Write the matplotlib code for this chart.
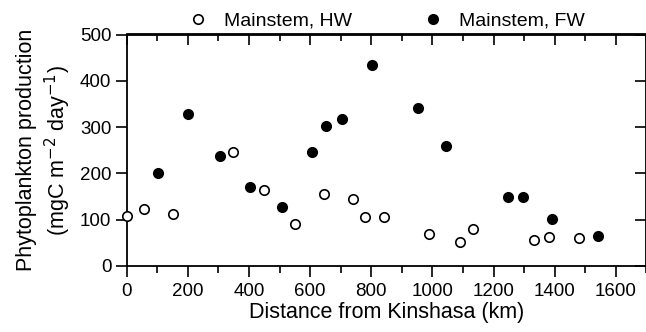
import matplotlib.pyplot as plt
from matplotlib.ticker import MultipleLocator

plt.rcParams['font.family'] = ['Liberation Sans', 'DejaVu Sans']

# Mainstem, high water (open circles)
hw_km = [0, 55, 153, 348, 450, 551, 644, 740, 781, 843, 990, 1090, 1134, 1331, 1380, 1478]
hw_prod = [108, 123, 113, 247, 165, 90, 155, 144, 105, 105, 70, 52, 80, 56, 62, 60]

# Mainstem, falling water (filled circles)
fw_km = [103, 201, 305, 404, 507, 607, 652, 703, 801, 953, 1045, 1248, 1295, 1392, 1541]
fw_prod = [200, 328, 237, 171, 127, 247, 302, 318, 434, 341, 259, 150, 148, 101, 64]

fig = plt.figure(figsize=(6.46, 3.32), dpi=100)
ax = fig.add_axes([126.7 / 646, 66 / 332, 519.7 / 646, 231.5 / 332])

ax.plot(hw_km, hw_prod, 'o', ms=6.8, mfc='white', mec='black', mew=1.2,
        label='Mainstem, HW', clip_on=False, zorder=3)
ax.plot(fw_km, fw_prod, 'o', ms=6.8, mfc='black', mec='black', mew=1.2,
        label='Mainstem, FW', clip_on=False, zorder=3)

ax.set_xlim(0, 1700)
ax.set_ylim(0, 500)
ax.set_xticks(range(0, 1601, 200))
ax.xaxis.set_minor_locator(MultipleLocator(100))
ax.yaxis.set_major_locator(MultipleLocator(100))

ax.tick_params(axis='both', which='major', labelsize=13.5, width=1.2,
               direction='out', length=8, pad=4)
ax.tick_params(axis='x', which='minor', direction='out', length=5, width=1.2)
ax.tick_params(axis='y', which='major', pad=3)

# top and right ticks point inward
ax_top = ax.secondary_xaxis('top')
ax_top.set_xticks(range(0, 1601, 200))
ax_top.xaxis.set_minor_locator(MultipleLocator(100))
ax_top.tick_params(which='major', direction='in', length=8, width=1.2)
ax_top.tick_params(which='minor', direction='in', length=5, width=1.2)
ax_top.set_xticklabels([])
ax_top.spines['top'].set_linewidth(1.3)
ax_right = ax.secondary_yaxis('right')
ax_right.tick_params(direction='in', length=8, width=1.2)
ax_right.set_yticklabels([])
ax_right.spines['right'].set_visible(False)

for sp in ax.spines.values():
    sp.set_linewidth(1.3)

ax.set_xlabel('Distance from Kinshasa (km)', fontsize=15.5, labelpad=2)
ax.set_ylabel('Phytoplankton production\n(mgC m$^{-2}$ day$^{-1}$)', fontsize=15.5,
              labelpad=5, linespacing=1.25)

ax.legend(loc='lower center', bbox_to_anchor=(0.5, 1.005), ncol=2,
          frameon=False, fontsize=14, handletextpad=0.84, columnspacing=3.7,
          handlelength=1.0, borderaxespad=0, borderpad=0.2)

fig.savefig('out.png', dpi=100)
